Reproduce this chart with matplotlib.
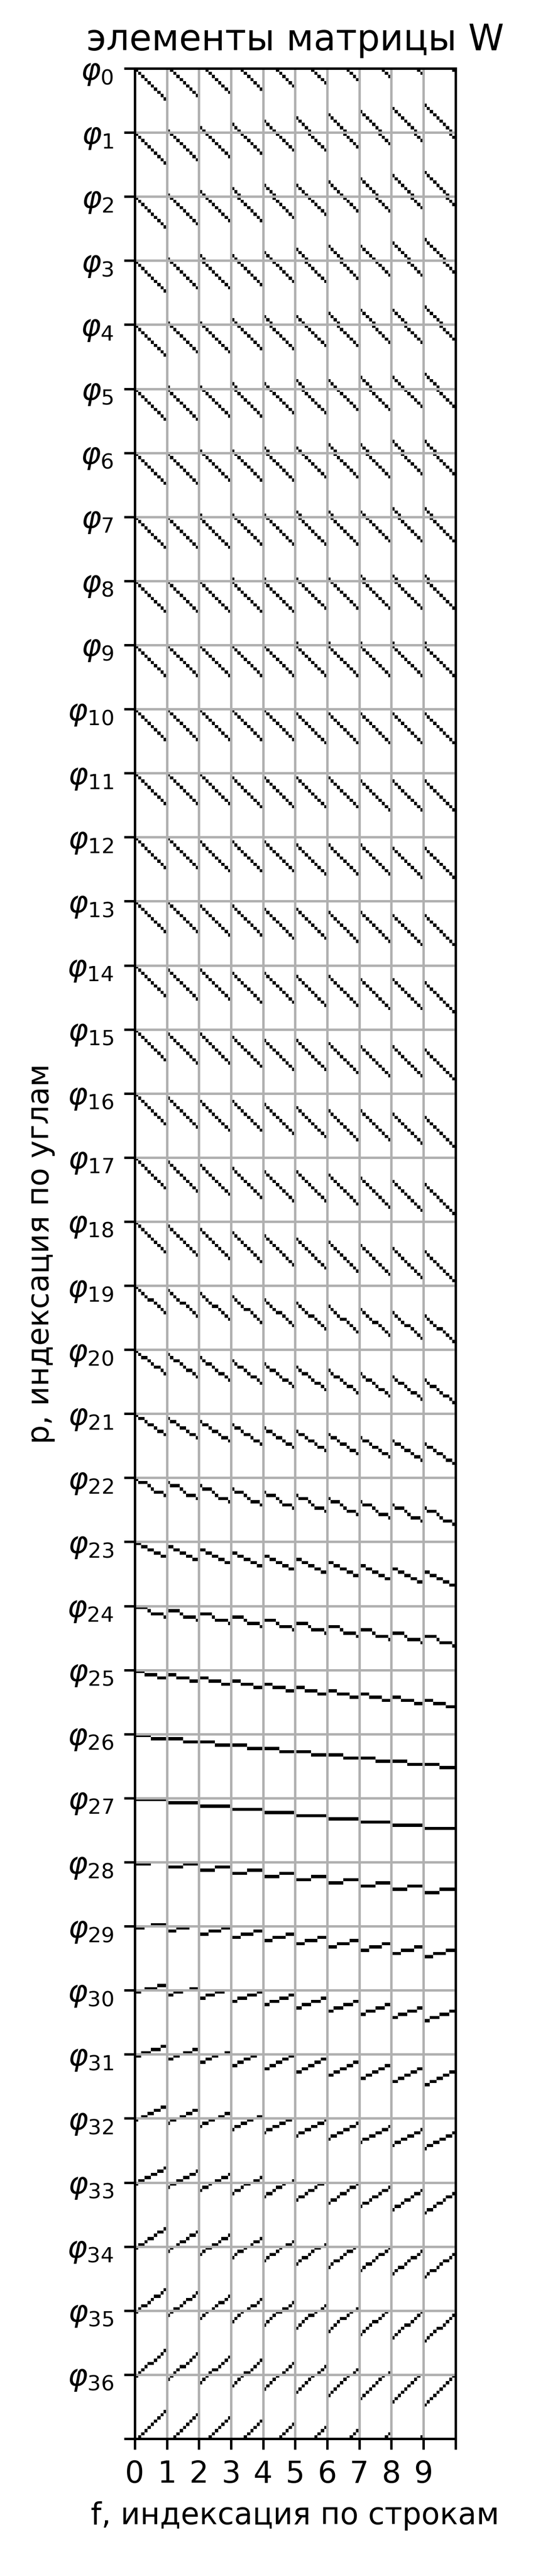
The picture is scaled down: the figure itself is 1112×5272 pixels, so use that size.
import numpy as np
import matplotlib
matplotlib.use("Agg")
import matplotlib.pyplot as plt

# ---- data -------------------------------------------------------------
n_img = 10          # image is 10 x 10, pixels indexed row by row (f = 10*i + j)
n_det = 20          # detector bins per angle
n_ang = 37          # angles phi_0 .. phi_36

# angles phi_0..phi_17: detector = j + shift[i]  (per image row i), wraps mod 20
row_shift = [
    [0, -1, -2, -3, -4, -5, -6, -7, -8, -9],
    [0, -1, -2, -3, -4, -4, -5, -6, -7, -8],
    [0, -1, -2, -2, -3, -4, -5, -5, -6, -7],
    [0, -1, -1, -2, -3, -3, -4, -5, -5, -6],
    [0, -1, -1, -2, -2, -3, -3, -4, -4, -5],
    [0, 0, -1, -1, -2, -2, -3, -3, -4, -4],
    [0, 0, -1, -1, -1, -2, -2, -2, -3, -3],
    [0, 0, 0, -1, -1, -1, -1, -2, -2, -2],
    [0, 0, 0, 0, 0, -1, -1, -1, -1, -1],
    [0, 0, 0, 0, 0, 0, 0, 0, 0, 0],
    [0, 0, 0, 0, 0, 1, 1, 1, 1, 1],
    [0, 0, 0, 1, 1, 1, 1, 2, 2, 2],
    [0, 0, 1, 1, 1, 2, 2, 2, 3, 3],
    [0, 0, 1, 1, 2, 2, 3, 3, 4, 4],
    [0, 1, 1, 2, 2, 3, 3, 4, 4, 5],
    [0, 1, 1, 2, 3, 3, 4, 5, 5, 6],
    [0, 1, 2, 2, 3, 4, 5, 5, 6, 7],
    [0, 1, 2, 3, 4, 4, 5, 6, 7, 8],
]
# angles phi_18..phi_36: detector = i + shift[j]  (per image column j), wraps mod 20
col_shift = [
    [0, 1, 2, 3, 4, 5, 6, 7, 8, 9],
    [0, 1, 2, 3, 4, 4, 5, 6, 7, 8],
    [0, 1, 2, 2, 3, 4, 5, 5, 6, 7],
    [0, 1, 1, 2, 3, 3, 4, 5, 5, 6],
    [0, 1, 1, 1, 2, 3, 4, 4, 4, 5],
    [0, 0, 1, 1, 2, 2, 3, 3, 4, 4],
    [0, 0, 0, 0, 1, 2, 2, 2, 2, 3],
    [0, 0, 0, 1, 1, 1, 1, 2, 2, 2],
    [0, 0, 0, 0, 0, 1, 1, 1, 1, 1],
    [0, 0, 0, 0, 0, 0, 0, 0, 0, 0],
    [0, 0, 0, 0, 0, -1, -1, -1, -1, -1],
    [0, 0, 0, -1, -1, -1, -1, -2, -2, -2],
    [0, 0, -1, -1, -1, -2, -2, -2, -3, -3],
    [0, 0, -1, -1, -2, -2, -3, -3, -4, -4],
    [0, -1, -1, -2, -2, -3, -3, -4, -4, -5],
    [0, -1, -1, -2, -3, -3, -4, -5, -5, -6],
    [0, -1, -2, -2, -3, -4, -5, -5, -6, -7],
    [0, -1, -2, -3, -4, -4, -5, -6, -7, -8],
    [0, -1, -2, -3, -4, -5, -6, -7, -8, -9],
]

x_tick_labels = [str(k) for k in range(n_img)] + [""]
y_tick_labels = [r"$\varphi_{%d}$" % p for p in range(n_ang)] + [""]

title = "элементы матрицы W"
xlabel = "f, индексация по строкам"
ylabel = "p, индексация по углам"

# ---- build matrix W ---------------------------------------------------
W = np.zeros((n_ang * n_det, n_img * n_img))
for p in range(n_ang):
    for i in range(n_img):
        for j in range(n_img):
            if p < len(row_shift):
                d = j + row_shift[p][i]
            else:
                d = i + col_shift[p - len(row_shift)][j]
            W[p * n_det + d % n_det, i * n_img + j] = 1

# ---- plot -------------------------------------------------------------
DPI = 445
fig = plt.figure(figsize=(1112 / DPI, 5272 / DPI), dpi=DPI)
ax = fig.add_axes([276 / 1112, 1 - 4991 / 5272, 656.5 / 1112, 4851 / 5272])
ax.imshow(W, cmap="gray_r", vmin=0, vmax=1, interpolation="nearest",
          extent=(0, n_img * n_img, n_ang * n_det, 0), aspect="auto")
ax.set_xticks(np.arange(0, n_img * n_img + 1, n_img))
ax.set_xticklabels(x_tick_labels)
ax.set_yticks(np.arange(0, n_ang * n_det + 1, n_det))
ax.set_yticklabels(y_tick_labels)
ax.grid(True)
ax.set_title(title)
ax.set_xlabel(xlabel)
ax.set_ylabel(ylabel)
fig.savefig("out.png", dpi=DPI)
